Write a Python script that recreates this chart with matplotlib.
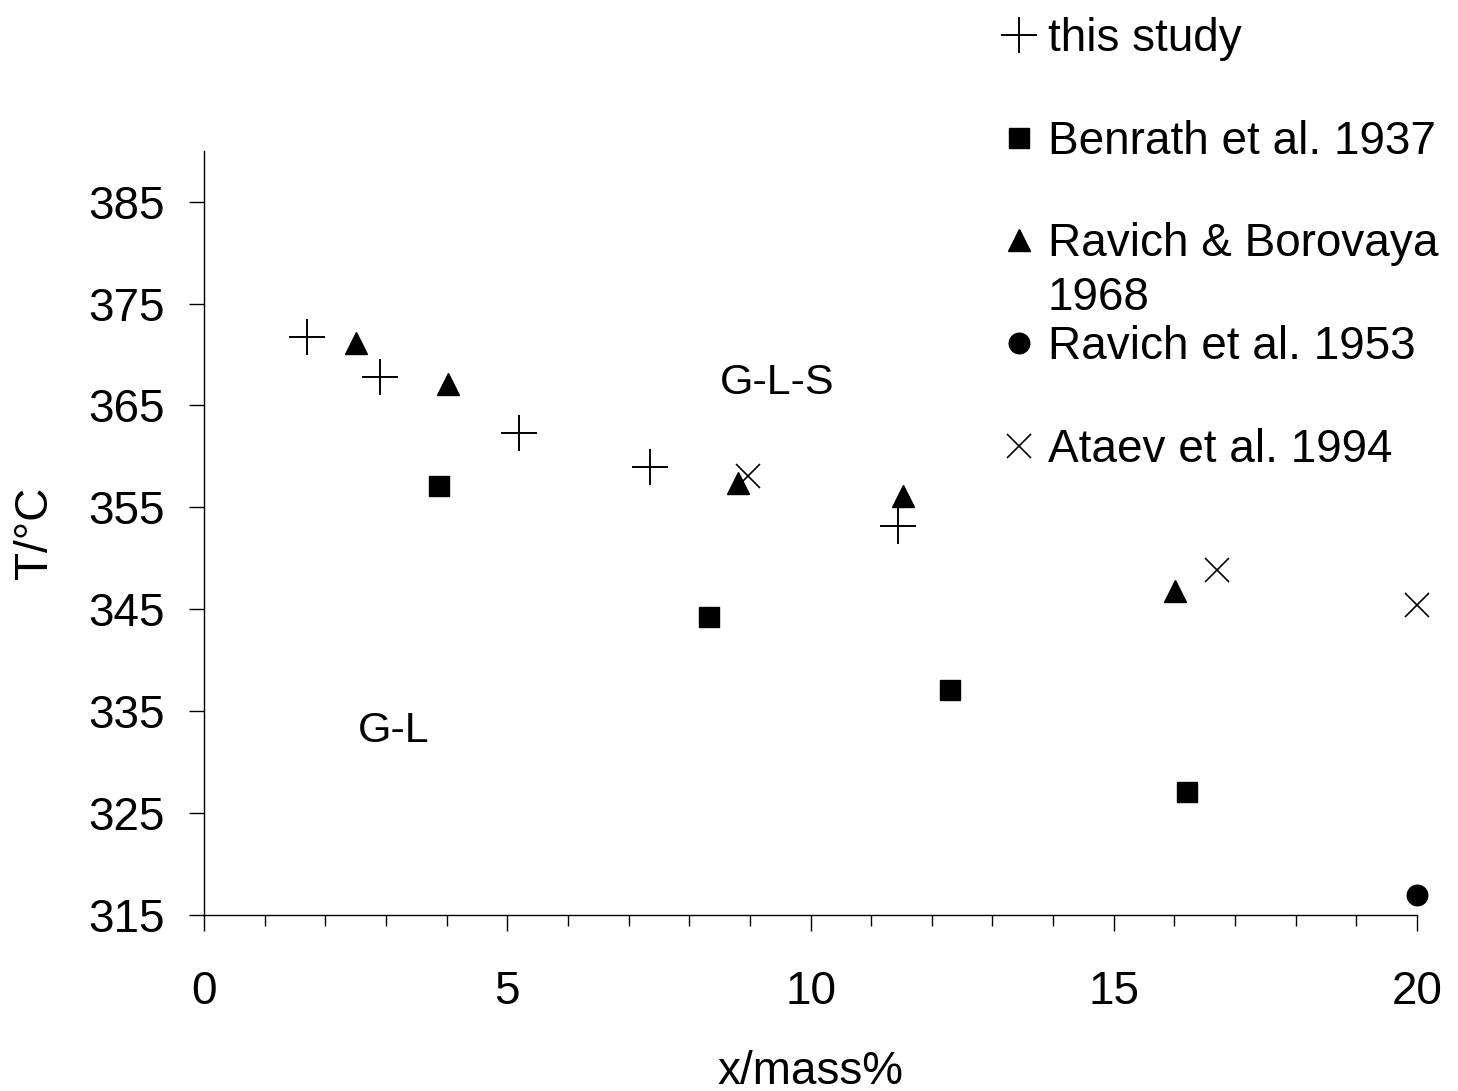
import matplotlib
matplotlib.use("Agg")
import matplotlib.pyplot as plt
from matplotlib.ticker import MultipleLocator

plt.rcParams['font.family'] = ['Liberation Sans', 'DejaVu Sans']

# data (x in mass%, T in degC)
study_x = [1.70, 2.90, 5.19, 7.35, 11.44]
study_t = [371.7, 367.8, 362.3, 359.0, 353.2]

benrath_x = [3.87, 8.33, 12.30, 16.21]
benrath_t = [357.1, 344.2, 337.1, 327.1]

borovaya_x = [2.51, 4.02, 8.80, 11.53, 16.01]
borovaya_t = [371.1, 367.1, 357.4, 356.1, 346.8]

ravich_x = [20.0]
ravich_t = [317.0]

ataev_x = [8.97, 16.70, 20.0]
ataev_t = [358.1, 348.9, 345.4]

x_ticks = [0, 5, 10, 15, 20]
y_ticks = [315, 325, 335, 345, 355, 365, 375, 385]

fs = 33

fig = plt.figure(figsize=(14.58, 10.91), dpi=100)
ax = fig.add_axes([0.1399, 0.1613, 0.8320, 0.7006])

ax.plot(study_x, study_t, ls='none', marker='+', ms=26, mew=1.4, color='black',
        clip_on=False, label='this study')
ax.plot(benrath_x, benrath_t, ls='none', marker='s', ms=14.8, color='black',
        clip_on=False, label='Benrath et al. 1937')
ax.plot(borovaya_x, borovaya_t, ls='none', marker='^', ms=16.2, color='black',
        clip_on=False, label='Ravich & Borovaya')
ax.plot(ravich_x, ravich_t, ls='none', marker='o', ms=14.8, color='black',
        clip_on=False, label='Ravich et al. 1953')
ax.plot(ataev_x, ataev_t, ls='none', marker='x', ms=17, mew=1.2, color='black',
        clip_on=False, label='Ataev et al. 1994')

ax.set_xlim(0, 20)
ax.set_ylim(315, 390)
ax.set_xticks(x_ticks)
ax.set_yticks(y_ticks)
ax.xaxis.set_minor_locator(MultipleLocator(1))

for s in ['top', 'right']:
    ax.spines[s].set_visible(False)
for s in ['left', 'bottom']:
    ax.spines[s].set_linewidth(1.0)

ax.tick_params(axis='x', which='major', length=11.5, width=1, pad=28, labelsize=fs)
ax.tick_params(axis='x', which='minor', length=8, width=1)
ax.tick_params(axis='y', which='major', length=11, width=1, pad=17, labelsize=fs)

ax.set_xlabel('x/mass%', fontsize=fs)
ax.xaxis.label.set_va('baseline')
ax.xaxis.set_label_coords(0.5, -0.221)
ax.set_ylabel('T/°C', fontsize=fs)
ax.yaxis.label.set_va('center')
ax.yaxis.set_label_coords(-0.1397, 0.5)

# region labels
ax.text(9.45, 367.2, 'G-L-S', fontsize=31, ha='center', va='center')
ax.text(3.12, 333.1, 'G-L', fontsize=31, ha='center', va='center')

leg = ax.legend(loc='upper left', bbox_to_anchor=(0.6869, 0.9844),
                bbox_transform=fig.transFigure, frameon=False, fontsize=fs,
                borderpad=0, borderaxespad=0, handlelength=0.78,
                handletextpad=0.23, labelspacing=1.28)

# second line of the wrapped legend entry
ax.annotate('1968', xy=(0, 0), xycoords=leg.get_texts()[2],
            xytext=(0, -38.5), textcoords='offset points',
            ha='left', va='bottom', fontsize=fs, zorder=6,
            annotation_clip=False)

fig.canvas.draw()
fig.savefig('out.png', dpi=100)
